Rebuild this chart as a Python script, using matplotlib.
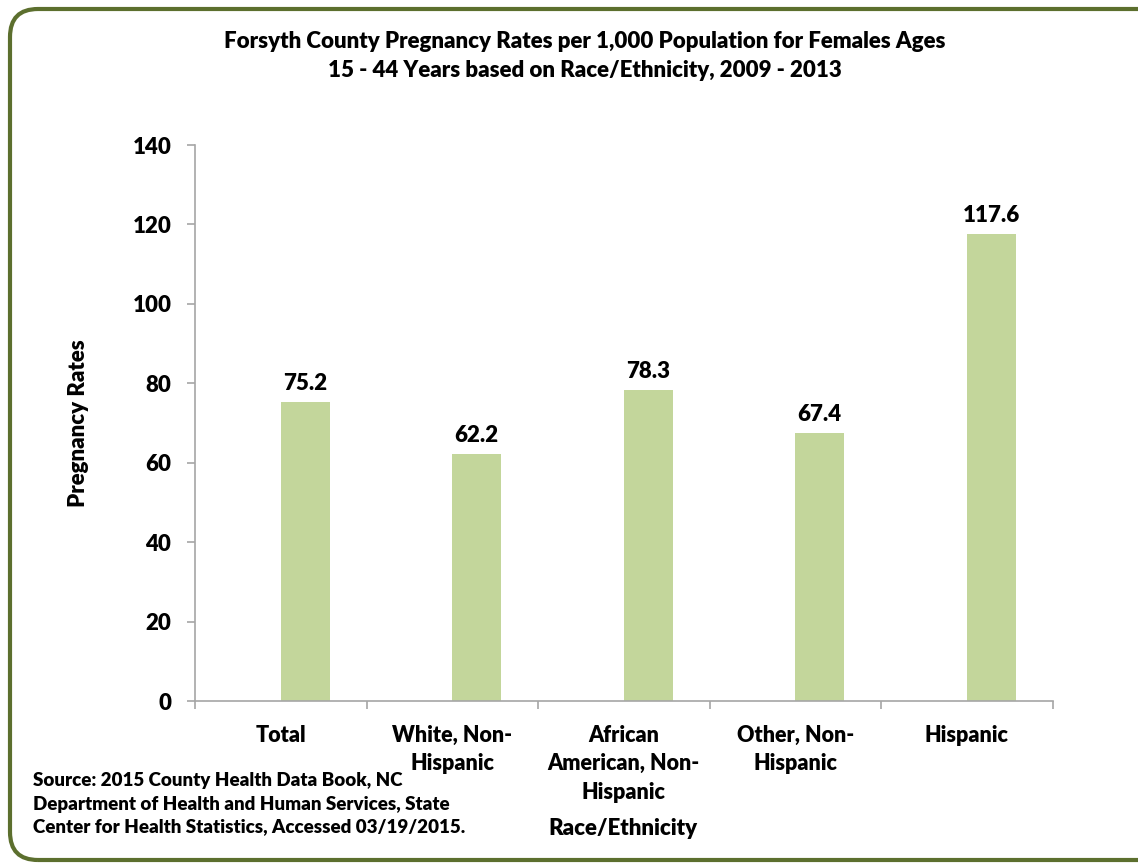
import numpy as np
import matplotlib.pyplot as plt
from matplotlib.patches import FancyBboxPatch

categories = ["Total", "White, Non-\nHispanic", "African\nAmerican, Non-\nHispanic",
              "Other, Non-\nHispanic", "Hispanic"]
rates = [75.2, 62.2, 78.3, 67.4, 117.6]
yticks = [0, 20, 40, 60, 80, 100, 120, 140]

title = ("Forsyth County Pregnancy Rates per 1,000 Population for Females Ages\n"
         "15 - 44 Years based on Race/Ethnicity, 2009 - 2013")
source = ("Source: 2015 County Health Data Book, NC\n"
          "Department of Health and Human Services, State\n"
          "Center for Health Statistics, Accessed 03/19/2015.")

WEIGHT = 'heavy'
plt.rcParams['font.family'] = ['Lato', 'DejaVu Sans']
plt.rcParams['font.weight'] = WEIGHT

W, H = 1138, 863
fig = plt.figure(figsize=(W / 100, H / 100), dpi=100)

# rounded green frame (pixel coords)
frame = FancyBboxPatch((10, 3), 1160, 851, boxstyle="round,pad=0,rounding_size=28",
                       transform=None, fill=False, edgecolor='#5c6f2e', linewidth=3.0)
fig.patches.append(frame)

ax = fig.add_axes([195 / W, (H - 701) / H, (1052.5 - 195) / W, (701 - 145) / H])

x = np.arange(len(categories))
bw = 1 / 3.5
bars = ax.bar(x, rates, width=bw, align='edge', color='#c3d69b')

for xi, v in zip(x, rates):
    ax.annotate(f"{v:.1f}", (xi + bw / 2, v), xytext=(0, 6), textcoords='offset points',
                ha='center', va='bottom', fontsize=16, fontweight=WEIGHT)

ax.set_xlim(-0.5, len(categories) - 0.5)
ax.set_ylim(0, 140)
ax.set_yticks(yticks)
ax.set_xticks(x)
ax.set_xticklabels(categories, fontsize=15.5, fontweight=WEIGHT, linespacing=1.45, va='top')
ax.set_xticks(np.arange(len(categories) + 1) - 0.5, minor=True)

for s in ['top', 'right']:
    ax.spines[s].set_visible(False)
for s in ['left', 'bottom']:
    ax.spines[s].set_color('#a6a6a6')
    ax.spines[s].set_linewidth(1.2)

ax.tick_params(axis='y', length=6, width=1.2, color='#a6a6a6', pad=11, labelsize=16)
ax.tick_params(axis='x', which='major', length=0, pad=17)
ax.tick_params(axis='x', which='minor', length=6, width=1.2, color='#a6a6a6')

ax.set_ylabel("Pregnancy Rates", fontsize=16, fontweight=WEIGHT, labelpad=31)

fig.text(585 / W, 1 - 56 / H, title, ha='center', va='center', fontsize=16,
         fontweight=WEIGHT, linespacing=1.5)
fig.text(623 / W, 1 - 828 / H, "Race/Ethnicity", ha='center', va='center',
         fontsize=16, fontweight=WEIGHT)
fig.text(33 / W, 1 - 804 / H, source, ha='left', va='center', fontsize=13.5,
         fontweight=WEIGHT, linespacing=1.43)

fig.savefig("out.png", dpi=100)
